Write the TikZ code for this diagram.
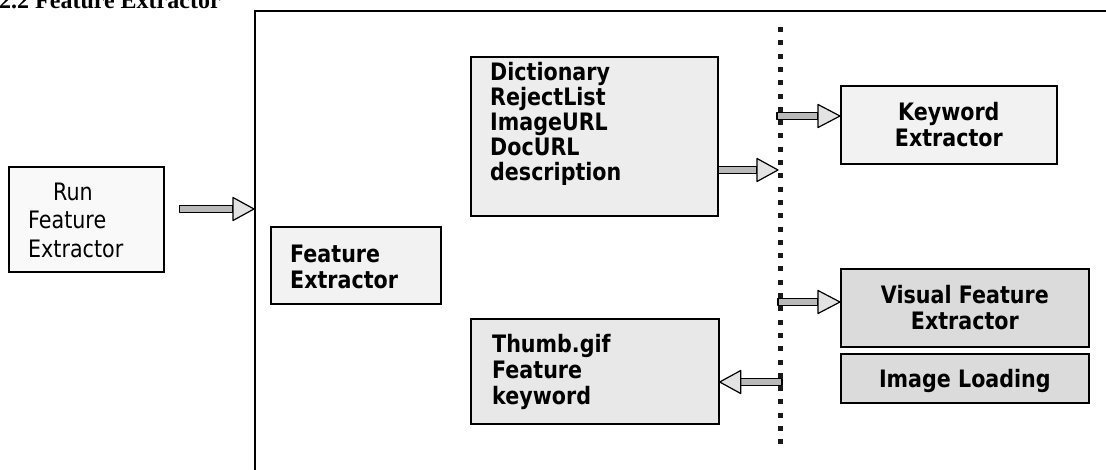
\documentclass[tikz,border=0pt]{standalone}
\usepackage{fontspec}
\setmainfont{DejaVu Sans}[FakeStretch=0.86]
\newfontfamily\titlefont{Liberation Serif}
\usetikzlibrary{calc}
\newcommand\barrow[3]{%
  \filldraw[shaftst] ($(#1)+(0,3.2)$) -- ($(#2)+(#3,3.2)$) -- ($(#2)+(#3,-3.2)$) -- ($(#1)+(0,-3.2)$) -- cycle;
  \filldraw[headst] ($(#2)+(#3,11.5)$) -- (#2) -- ($(#2)+(#3,-11.5)$) -- cycle;}
\begin{document}
\begin{tikzpicture}[x=1pt,y=-1pt,
  box/.style={draw=black, line width=1.7pt, inner sep=0pt, anchor=north west},
  ctxt/.style={align=center, font=\bfseries\fontsize{24}{26}\selectfont},
  ltxt/.style={anchor=north west, inner sep=0pt, align=left, font=\bfseries\fontsize{24}{26}\selectfont},
  shaftst/.style={fill=gray!55, draw=black, line width=1.2pt, line join=round},
  headst/.style={fill=gray!22, draw=black, line width=1.2pt, line join=round},
  frame/.style={line width=1.8pt},
  dotline/.style={line width=5pt, black!90, dash pattern=on 5pt off 8.3pt}]
\clip (0,0) rectangle (1106,469);
\useasboundingbox (0,0) rectangle (1106,469);
\fill[white] (0,0) rectangle (1106,469);

% title
\node[anchor=base west, inner sep=0pt, font=\titlefont\bfseries\fontsize{24}{24}\selectfont] (title) at (-1,8.5) {2.2 Feature Extractor};

% frame
\coordinate (ftr) at (1110,11);
\coordinate (ftl) at (255,11);
\coordinate (fbl) at (255,475);
\draw[frame] (ftr) -- (ftl) -- (fbl);

% boxes
\node[box, fill=gray!5, minimum width=155pt, minimum height=105pt] (run) at (8,166) {};
\node[anchor=north west, inner sep=0pt, align=left, font=\fontsize{24}{28.5}\selectfont] (runT) at (28,180) {\rule{0pt}{20pt}\hspace*{25pt}Run\\Feature\\Extractor};

\node[box, fill=gray!10, minimum width=170pt, minimum height=77pt] (fe) at (270,226) {};
\node[ltxt] (feT) at (290,242) {\rule{0pt}{20pt}Feature\\Extractor};

\node[box, fill=gray!14, minimum width=247pt, minimum height=159pt] (dict) at (470,56) {};
\node[ltxt, font=\bfseries\fontsize{24}{25}\selectfont] (dictT) at (490,60) {\rule{0pt}{20pt}Dictionary\\RejectList\\ImageURL\\DocURL\\description};

\node[box, fill=gray!18, minimum width=248pt, minimum height=105pt] (thumb) at (470,318) {};
\node[ltxt] (thT) at (492,332) {\rule{0pt}{20pt}Thumb.gif\\Feature\\keyword};

\node[box, ctxt, fill=gray!10, minimum width=216pt, minimum height=78pt] (kw) at (840,85) {Keyword\\Extractor};
\node[box, ctxt, fill=gray!28, minimum width=248pt, minimum height=78pt] (vfe) at (840,268) {Visual Feature\\Extractor};
\node[box, ctxt, fill=gray!28, minimum width=248pt, minimum height=49pt, text depth=0pt] (il) at (840,353) {Image Loading};

% dotted separator
\coordinate (dtop) at (780,27);
\coordinate (dbot) at (780,447);
\draw[dotline] (dtop) -- (dbot);

% arrow end points
\coordinate (fin) at (254,209);
\coordinate (dK) at (777,116);
\coordinate (dD) at (778,170);
\coordinate (dV) at (778,302);
\coordinate (dT) at (782,382);
\coordinate (rA) at ($(run.east |- fin)+(15,0)$);
\coordinate (dictE) at (dict.east |- dD);
\coordinate (kwW) at (kw.west |- dK);
\coordinate (vfeW) at (vfe.west |- dV);
\coordinate (thE) at (thumb.east |- dT);

% arrows
\barrow{rA}{fin}{-21}
\barrow{dictE}{dD}{-21}
\barrow{dK}{kwW}{-22}
\barrow{dV}{vfeW}{-22}
\barrow{dT}{thE}{21}
\end{tikzpicture}
\end{document}
